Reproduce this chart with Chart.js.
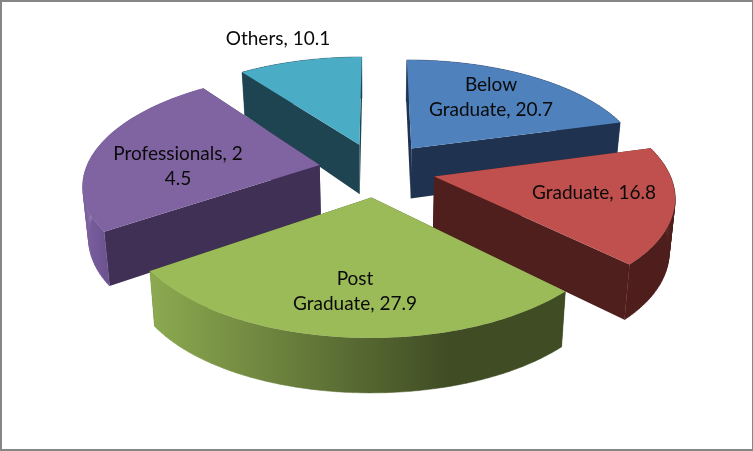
<!DOCTYPE html>
<html>
<head>
<meta charset="utf-8">
<style>
html,body{margin:0;padding:0;background:#fff;overflow:hidden}
#wrap{position:relative;width:753px;height:451px}
#frame{position:absolute;left:0;top:0;width:753px;height:451px;box-sizing:border-box;border-style:solid;border-color:#868686;border-width:2px 1px 2px 2px;pointer-events:none}
canvas{display:block}
</style>
<script src="https://cdn.jsdelivr.net/npm/chart.js@4/dist/chart.umd.min.js"></script>
</head>
<body>
<div id="wrap"><canvas id="c" width="753" height="451"></canvas><div id="frame"></div></div>
<script>
const categories = ['Below Graduate', 'Graduate', 'Post Graduate', 'Professionals', 'Others'];
const values = [20.7, 16.8, 27.9, 24.5, 10.1];
const labelLines = [['Below', 'Graduate, 20.7'], ['Graduate, 16.8'], ['Post', 'Graduate, 27.9'], ['Professionals, 2', '4.5'], ['Others, 10.1']];
const labelCentres = [[491, 97], [594, 193], [355, 291], [178, 166], [278, 39]];
const topColours = ['#4F81BD', '#C0504D', '#9BBB59', '#8064A2', '#4BACC6'];
const wallColours = ['#1F3350', '#4F1F1D', '#3F4C24', '#413056', '#1E4452'];
const drawOrder = [4, 3, 0, 1, 2];

// Perspective view of the pie plane
const view = {cx: 377, cy: 169.5, A: 234, B: 108.5, k: 0.1566, explode: 0.25, xShrink: 0.98};
function project(X, Y, lower) {
  const s = 1 / (1 - view.k * Y);
  let x = view.A * X * s, y = view.B * Y * s;
  if (lower) {
    x *= view.xShrink;
    y += 43 + (s - 0.86) * 63.6 - 118.6 * (s - 0.86) * (s - 0.97);
  }
  return [view.cx + x, view.cy + y];
}
function slicePoints(arc, lower) {
  const mid = (arc.startAngle + arc.endAngle) / 2;
  const ox = view.explode * Math.cos(mid), oy = view.explode * Math.sin(mid);
  const rim = [];
  const n = 60;
  for (let i = 0; i <= n; i++) {
    const a = arc.startAngle + (arc.endAngle - arc.startAngle) * i / n;
    rim.push(project(ox + Math.cos(a), oy + Math.sin(a), lower));
  }
  return {apex: project(ox, oy, lower), rim};
}
function fillPoly(ctx, pts, fill) {
  ctx.beginPath();
  pts.forEach((p, i) => i ? ctx.lineTo(p[0], p[1]) : ctx.moveTo(p[0], p[1]));
  ctx.closePath();
  ctx.fillStyle = fill;
  ctx.fill();
}
function outerWallFill(ctx, i) {
  if (i === 2) {
    const g = ctx.createLinearGradient(150, 0, 450, 0);
    g.addColorStop(0, '#8CAA50');
    g.addColorStop(1, '#3F4C24');
    return g;
  }
  if (i === 3) {
    const g = ctx.createLinearGradient(84, 0, 112, 0);
    g.addColorStop(0, '#7D60A0');
    g.addColorStop(1, '#67508C');
    return g;
  }
  return wallColours[i];
}
const pie3d = {
  id: 'pie3d',
  beforeDatasetsDraw(chart) {
    const ctx = chart.ctx;
    const arcs = chart.getDatasetMeta(0).data;
    drawOrder.forEach(i => {
      const top = slicePoints(arcs[i], false);
      const low = slicePoints(arcs[i], true);
      const tr = top.rim, lr = low.rim;
      fillPoly(ctx, [top.apex, tr[0], lr[0], low.apex], wallColours[i]);
      fillPoly(ctx, [top.apex, tr[tr.length - 1], lr[lr.length - 1], low.apex], wallColours[i]);
      // Outer wall as swept quads so the silhouette joins both rims
      const wall = outerWallFill(ctx, i);
      ctx.beginPath();
      for (let j = 0; j < tr.length - 1; j++) {
        ctx.moveTo(tr[j][0], tr[j][1]);
        ctx.lineTo(tr[j + 1][0], tr[j + 1][1]);
        ctx.lineTo(lr[j + 1][0], lr[j + 1][1]);
        ctx.lineTo(lr[j][0], lr[j][1]);
        ctx.closePath();
      }
      ctx.fillStyle = wall;
      ctx.strokeStyle = wall;
      ctx.lineWidth = 0.5;
      ctx.fill('nonzero');
      ctx.stroke();
      fillPoly(ctx, [top.apex].concat(tr), topColours[i]);
    });
    return false;
  },
  afterDraw(chart) {
    const ctx = chart.ctx;
    ctx.save();
    ctx.font = '19px Lato';
    ctx.fillStyle = '#0a0a0a';
    ctx.textAlign = 'center';
    ctx.textBaseline = 'middle';
    labelLines.forEach((lines, i) => {
      const [x, y] = labelCentres[i];
      lines.forEach((t, j) => ctx.fillText(t, x, y + (j - (lines.length - 1) / 2) * 25));
    });
    ctx.restore();
  }
};
new Chart(document.getElementById('c'), {
  type: 'pie',
  data: {labels: categories, datasets: [{data: values, backgroundColor: topColours, borderWidth: 0}]},
  options: {
    responsive: false, animation: false, devicePixelRatio: 1,
    plugins: {legend: {display: false}, tooltip: {enabled: false}}
  },
  plugins: [pie3d]
});
</script>
</body>
</html>
